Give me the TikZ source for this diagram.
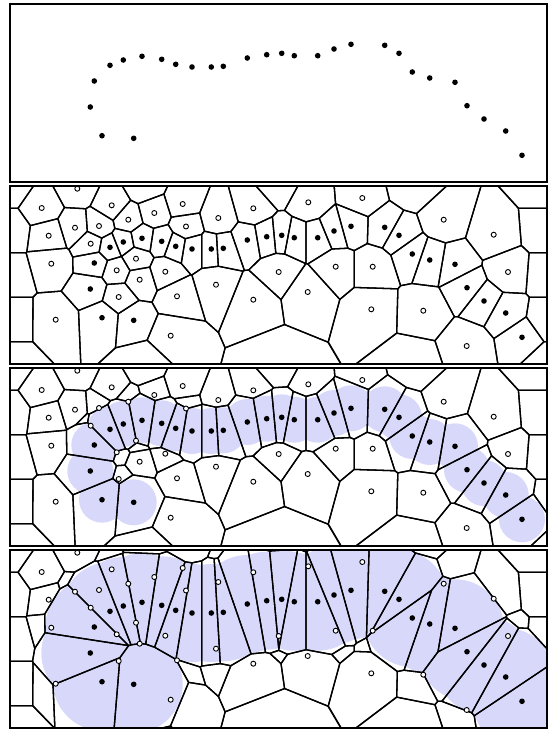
\documentclass[tikz,border=0pt]{standalone}
\definecolor{blob}{RGB}{216,216,250}
\tikzset{
  vline/.style={line width=1.3pt,black,line join=round},
  frame/.style={line width=1.2pt,black},
  blackpt/.style={fill=black},
  whitept/.style={fill=white,draw=black,line width=0.9pt},
  blobfill/.style={fill=blob}
}
% sites: x/y/type  (1 = black, 0 = white, 2 = hidden boundary site); panel-2 pixel coordinates
\def\sites{94.3/263/1,110/247.3/1,123.3/242/1,142/238.3/1,161.7/241.3/1,175.7/246.3/1,192/249/1,211.3/249/1,223.3/248.3/1,247.3/240/1,266.7/236.7/1,90.3/289/1,102/317.7/1,133.7/320.3/1,281.7/235.3/1,294.3/237.7/1,317.7/237.7/1,334/231/1,351/226.3/1,384.7/227.3/1,399/235.3/1,412.3/254/1,429.7/260/1,455/264.3/1,467/287.7/1,484/301/1,505.7/313/1,522/337.3/1,%
41.7/208/0,77.3/188.7/0,111.7/205.3/0,154.3/213/0,182.7/204/0,253.3/208.3/0,308.3/202.3/0,362.3/198/0,443.7/219.7/0,493.7/234.7/0,%
48.7/235.7/0,75/227.7/0,99/226/0,128.3/219.7/0,186/226.5/0,218.3/218/0,%
90.7/243.7/0,136/258.7/0,116.7/270.3/0,51.3/263.7/0,165.3/271.7/0,139.7/279.7/0,%
278.7/272/0,335.7/266.7/0,372.7/266.7/0,508/272/0,%
118.7/297/0,177/296.3/0,216/284.7/0,253.3/299.7/0,307.7/292/0,%
371.3/309.3/0,423.3/310.7/0,55.7/319.7/0,170.7/335.7/0,466.7/346/0,%
10/186/2,547/186/2,10/364/2,547/364/2,%
144.25/186/2,278.5/186/2,412.75/186/2,%
144.25/364/2,278.5/364/2,412.75/364/2,%
10/230.5/2,10/275/2,10/319.5/2,%
547/230.5/2,547/275/2,547/319.5/2}
\makeatletter
\newdimen\dA \newdimen\dB \newdimen\dC
\def\splitsite#1/#2/#3\relax{\def\sBx{#1}\def\sBy{#2}\def\sBt{#3}}
\def\splitxy#1/#2\relax{\def\vx{#1}\def\vy{#2}}
\def\addv#1#2{\ifx\newpoly\empty \edef\newpoly{#1/#2}\else \edef\newpoly{\newpoly,#1/#2}\fi}
\def\sval{%
  \dA=\vx pt \advance\dA -\sAx pt \dA=\ux\dA
  \dB=\vy pt \advance\dB -\sAy pt \dB=\uy\dB
  \advance\dA\dB \advance\dA -\tpar pt\relax}
\def\intersect{%
  \dC=\sP \advance\dC -\sC\relax
  \edef\numP{\number\dimexpr\sP\relax}%
  \edef\denP{\number\dC}%
  \dA=\dimexpr \Px pt + (\vx pt - \Px pt)*\numP/\denP\relax
  \dB=\dimexpr \Py pt + (\vy pt - \Py pt)*\numP/\denP\relax
  \edef\ix{\strip@pt\dA}\edef\iy{\strip@pt\dB}%
  \addv\ix\iy}
\def\clipstep{%
  \let\newpoly\empty
  \@for\vv:=\poly\do{\let\lastv\vv}%
  \expandafter\splitxy\lastv\relax
  \sval \edef\sP{\the\dA}\let\Px\vx \let\Py\vy
  \@for\vv:=\poly\do{%
    \expandafter\splitxy\vv\relax
    \sval \edef\sC{\the\dA}%
    \ifdim\sC>\z@
      \ifdim\sP>\z@ \else \intersect \fi
    \else
      \ifdim\sP>\z@ \intersect \fi
      \addv\vx\vy
    \fi
    \let\sP\sC \let\Px\vx \let\Py\vy}%
  \let\poly\newpoly}
\def\doclip#1{%
  \edef\ddx{\strip@pt\dA}\edef\ddy{\strip@pt\dB}%
  \pgfmathsetmacro\DD{veclen(\ddx,\ddy)}%
  \pgfmathsetmacro\wB{(\sBt==1)*#1}%
  \pgfmathsetmacro\tpar{\DD/2+(\wA-\wB)/(2*\DD)}%
  \pgfmathsetmacro\ux{\ddx/\DD}%
  \pgfmathsetmacro\uy{\ddy/\DD}%
  \clipstep}
\def\drawpoly{%
  \let\pathspec\empty
  \@for\vv:=\poly\do{\expandafter\splitxy\vv\relax \edef\pathspec{\pathspec(\vx,\vy) -- }}%
  \edef\tmp{\noexpand\draw[vline] \pathspec cycle;}\tmp}
% power diagram of all sites; #1 = squared radius of the black sites
\newcommand\powerdiagram[1]{%
  \foreach \sAx/\sAy/\sAt in \sites {%
    \pgfmathsetmacro\wA{(\sAt==1)*#1}%
    \def\poly{10/186,547/186,547/364,10/364}%
    \@for\siteB:=\sites\do{%
      \ifx\poly\empty\else
        \expandafter\splitsite\siteB\relax
        \dA=\sBx pt \advance\dA -\sAx pt
        \dB=\sBy pt \advance\dB -\sAy pt
        \ifdim\ifdim\dA<\z@ -\fi\dA<170pt
          \ifdim\ifdim\dB<\z@ -\fi\dB<170pt
            \ifdim\dA=\z@
              \ifdim\dB=\z@ \else \doclip{#1}\fi
            \else \doclip{#1}\fi
          \fi
        \fi
      \fi}%
    \ifx\poly\empty\else \drawpoly \fi
  }%
}
\makeatother
\newcommand\drawpoints[1]{%
  \foreach \sAx/\sAy/\sAt in \sites {%
    \ifnum\sAt=1\relax \fill[blackpt] (\sAx,\sAy) circle[radius=2.8];\fi
    \ifnum#1=1\relax\ifnum\sAt=0\relax \filldraw[whitept] (\sAx,\sAy) circle[radius=2.5];\fi\fi
  }%
}
\newcommand\blobs[1]{%
  \foreach \sAx/\sAy/\sAt in \sites {%
    \ifnum\sAt=1\relax \fill[blobfill] (\sAx,\sAy) circle[radius=#1];\fi
  }%
}
\begin{document}
\begin{tikzpicture}[x=1pt,y=-1pt]
\useasboundingbox (0,0) rectangle (550,729);
% panel 1
\begin{scope}[shift={(0,-182)}]
  \draw[frame] (10,186) rectangle (547,364);
  \drawpoints{0}
\end{scope}
% panel 2
\begin{scope}
  \powerdiagram{0}
  \draw[frame] (10,186) rectangle (547,364);
  \drawpoints{1}
\end{scope}
% panel 3
\begin{scope}[shift={(0,182)}]
  \begin{scope}
    \clip (10,186) rectangle (547,364);
    \blobs{23}
  \end{scope}
  \powerdiagram{529}
  \draw[frame] (10,186) rectangle (547,364);
  \drawpoints{1}
\end{scope}
% panel 4
\begin{scope}[shift={(0,364)}]
  \begin{scope}
    \clip (10,186) rectangle (547,364);
    \blobs{49}
  \end{scope}
  \powerdiagram{2401}
  \draw[frame] (10,186) rectangle (547,364);
  \drawpoints{1}
\end{scope}
\end{tikzpicture}
\end{document}
